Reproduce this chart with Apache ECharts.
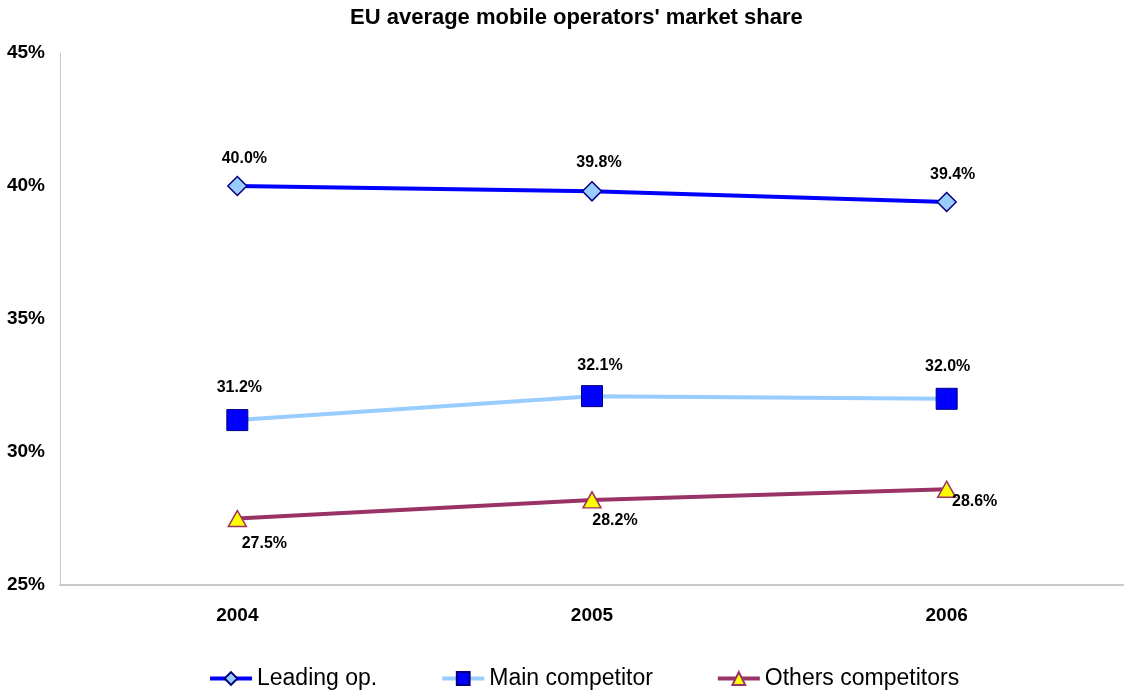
<!DOCTYPE html>
<html>
<head>
<meta charset="utf-8">
<script src="https://cdn.jsdelivr.net/npm/echarts@6/dist/echarts.min.js"></script>
<style>
  html, body { margin: 0; padding: 0; background: #fff; }
  #main { width: 1124px; height: 695px; }
</style>
</head>
<body>
<div id="main"></div>
<script>
var years = ['2004', '2005', '2006'];
var leadingOp = [40.0, 39.8, 39.4];
var mainCompetitor = [31.2, 32.1, 32.0];
var othersCompetitors = [27.5, 28.2, 28.6];

// label offsets per point, in px (style only)
var leadOffsets = [[7, -27], [7, -29], [6, -27]];
var mainOffsets = [[2, -32], [8, -31], [1, -32]];
var otherOffsets = [[27, 25], [23, 21], [28, 12]];

var labelStyle = {
  show: true,
  position: 'inside',
  fontFamily: 'Liberation Sans, Arial, sans-serif',
  fontWeight: 'bold',
  fontSize: 16,
  color: '#000',
  formatter: function (p) { return p.value.toFixed(1) + '%'; }
};

function withLabels(values, offsets) {
  return values.map(function (v, i) {
    return { value: v, label: Object.assign({}, labelStyle, { offset: offsets[i] }) };
  });
}

var chart = echarts.init(document.getElementById('main'));
chart.setOption({
  animation: false,
  textStyle: { fontFamily: 'Liberation Sans, Arial, sans-serif' },
  title: {
    text: "EU average mobile operators' market share",
    left: 345,
    top: 2,
    textStyle: { fontSize: 22, fontWeight: 'bold', color: '#000' }
  },
  legend: {
    bottom: 0,
    left: 203,
    itemWidth: 42,
    itemHeight: 16,
    itemGap: 63,
    lineStyle: { width: 4 },
    textStyle: { fontSize: 23, color: '#000' },
    data: ['Leading op.', 'Main competitor', 'Others competitors']
  },
  grid: { left: 60, right: 0, top: 53, bottom: 110 },
  xAxis: {
    type: 'category',
    data: years,
    boundaryGap: true,
    axisLine: { lineStyle: { color: '#c8c8c8', width: 2 } },
    axisTick: { show: false },
    axisLabel: { fontSize: 19, fontWeight: 'bold', color: '#000', margin: 21 }
  },
  yAxis: {
    type: 'value',
    min: 25,
    max: 45,
    interval: 5,
    splitLine: { show: false },
    axisLine: { show: true, lineStyle: { color: '#c8c8c8', width: 1 } },
    axisTick: { show: false },
    axisLabel: {
      fontSize: 19, fontWeight: 'bold', color: '#000', margin: 15,
      formatter: '{value}%'
    }
  },
  series: [
    {
      name: 'Leading op.',
      type: 'line',
      data: withLabels(leadingOp, leadOffsets),
      symbol: 'diamond',
      symbolSize: 19,
      lineStyle: { color: '#0000ff', width: 4 },
      itemStyle: { color: '#99ccff', borderColor: '#000080', borderWidth: 1.5 }
    },
    {
      name: 'Main competitor',
      type: 'line',
      data: withLabels(mainCompetitor, mainOffsets),
      symbol: 'rect',
      symbolSize: 21,
      lineStyle: { color: '#99ccff', width: 4 },
      itemStyle: { color: '#0000ff', borderColor: '#000080', borderWidth: 1 }
    },
    {
      name: 'Others competitors',
      type: 'line',
      data: withLabels(othersCompetitors, otherOffsets),
      symbol: 'triangle',
      symbolSize: [18, 16],
      lineStyle: { color: '#993366', width: 4 },
      itemStyle: { color: '#ffff00', borderColor: '#993366', borderWidth: 1.5 }
    }
  ]
});
</script>
</body>
</html>
